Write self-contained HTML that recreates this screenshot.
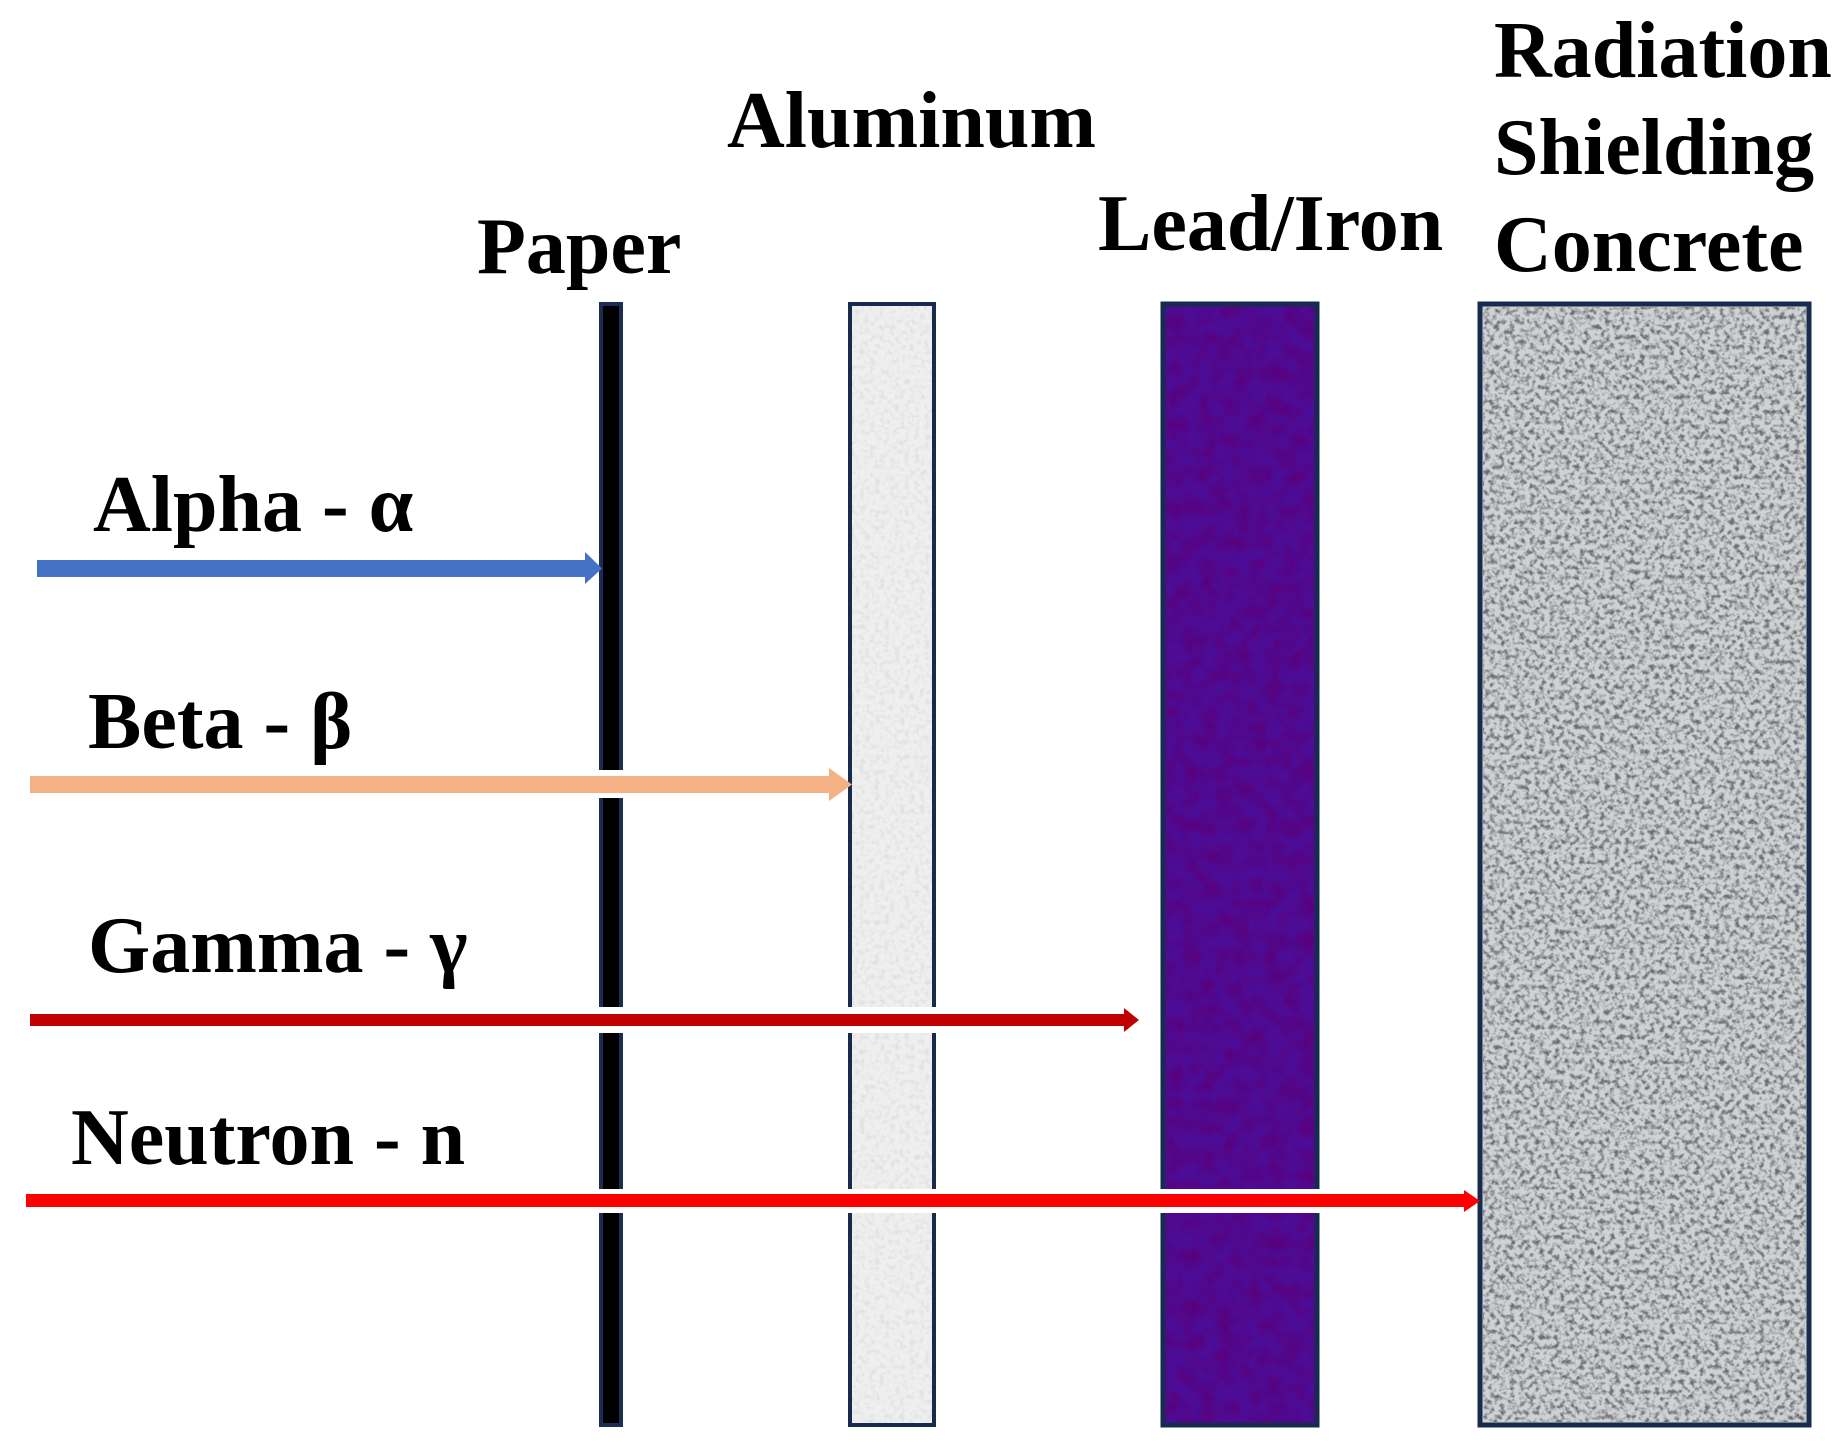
<!DOCTYPE html>
<html><head><meta charset="utf-8"><style>
html,body{margin:0;padding:0;background:#fff;}
svg{display:block}
text{font-family:"Liberation Serif","DejaVu Serif",serif;font-weight:bold;font-size:80px;fill:#000}
</style></head><body>
<svg width="1847" height="1449" viewBox="0 0 1847 1449" xmlns="http://www.w3.org/2000/svg">
<defs>
<filter id="alu" x="0" y="0" width="100%" height="100%">
<feTurbulence type="fractalNoise" baseFrequency="0.2" numOctaves="2" seed="3"/>
<feColorMatrix type="matrix" values="0 0 0 0 0.7  0 0 0 0 0.7  0 0 0 0 0.7  -2 0 0 0 1.1"/>
</filter>
<filter id="lead" x="0" y="0" width="100%" height="100%">
<feTurbulence type="fractalNoise" baseFrequency="0.06" numOctaves="3" seed="5"/>
<feColorMatrix type="matrix" values="0 0 0 0 0.1  0 0 0 0 0.0  0 0 0 0 0.2  -2 0 0 0 1.3"/>
</filter>
<filter id="conc" x="0" y="0" width="100%" height="100%">
<feTurbulence type="fractalNoise" baseFrequency="0.2" numOctaves="2" seed="7"/>
<feColorMatrix type="matrix" values="0 0 0 0 0.15  0 0 0 0 0.15  0 0 0 0 0.17  -3 0 0 0 1.7"/>
</filter>
</defs>

<rect x="601" y="304" width="20" height="1121" fill="#000" stroke="#1b2d52" stroke-width="4"/>
<rect x="850" y="304" width="84" height="1121" fill="#efefef" stroke="#172b4f" stroke-width="4"/>
<rect x="852" y="306" width="80" height="1117" fill="#fff" filter="url(#alu)"/>
<rect x="1163" y="304" width="154" height="1121" fill="#4c0c96" stroke="#172b4f" stroke-width="5"/>
<rect x="1166" y="307" width="148" height="1115" fill="#fff" filter="url(#lead)"/>
<rect x="1480" y="304" width="329" height="1121" fill="#cfd2d4" stroke="#172b4f" stroke-width="5"/>
<rect x="1483" y="307" width="323" height="1115" fill="#fff" filter="url(#conc)"/>

<rect x="30" y="770" width="805" height="28" fill="#fff"/>
<rect x="30" y="1007" width="1095" height="26" fill="#fff"/>
<rect x="26" y="1189" width="1435" height="24" fill="#fff"/>

<rect x="37" y="560" width="550" height="17" fill="#4472c4"/>
<polygon points="585,552 602,568.5 585,584" fill="#4472c4"/>
<rect x="30" y="776" width="805" height="17" fill="#f4b183"/>
<polygon points="829,768 852,784.5 829,801" fill="#f4b183"/>
<rect x="30" y="1014" width="1095" height="12" fill="#c00000"/>
<polygon points="1124,1008 1139,1020 1124,1032" fill="#c00000"/>
<rect x="26" y="1194" width="1440" height="13" fill="#ff0000"/>
<polygon points="1464,1190 1480,1201 1464,1212" fill="#ff0000"/>

<text x="477" y="273">Paper</text>
<text x="727" y="147">Aluminum</text>
<text x="1098" y="250">Lead/Iron</text>
<text x="1494" y="77">Radiation</text>
<text x="1494" y="174">Shielding</text>
<text x="1494" y="271">Concrete</text>
<text x="93" y="531">Alpha - α</text>
<text x="88" y="748">Beta - β</text>
<text x="88" y="972">Gamma - γ</text>
<text x="71" y="1164">Neutron - n</text>
</svg>
</body></html>
